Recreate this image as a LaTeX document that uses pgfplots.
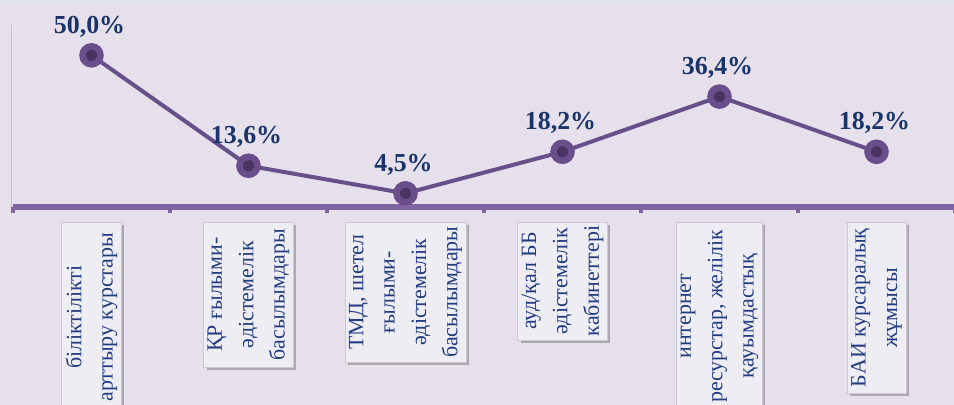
\documentclass[border=0pt]{standalone}
\usepackage{fontspec}
\setmainfont{Liberation Serif}
\usepackage{pgfplots}
\pgfplotsset{compat=1.18}
\usetikzlibrary{shadows}
\definecolor{bg}{HTML}{E5E0EC}
\definecolor{topband}{HTML}{DCE4EE}
\definecolor{axpurple}{HTML}{8064A2}
\definecolor{linepurple}{HTML}{67508A}
\definecolor{markouter}{HTML}{6A4E8C}
\definecolor{markinner}{HTML}{4A3263}
\definecolor{lblnavy}{HTML}{1A3468}
\definecolor{ticknavy}{HTML}{223C80}
\definecolor{boxfill}{HTML}{EFEDF4}
\definecolor{boxdraw}{HTML}{CCC8D4}
\begin{document}
\begin{tikzpicture}
\useasboundingbox (0,0) rectangle (954bp,405bp);
\clip (0,0) rectangle (954bp,405bp);
\fill[bg] (0,0) rectangle (954bp,405bp);
\fill[topband] (0,402bp) rectangle (954bp,405bp);
\draw[gray!45, line width=1bp] (11bp,198bp) -- (11bp,380bp);
\begin{axis}[
  at={(13bp,198bp)}, anchor=south west,
  scale only axis, width=942bp, height=182bp,
  xmin=-0.5, xmax=5.5, ymin=0, ymax=60,
  axis x line=bottom, axis y line=none,
  axis line style={-, axpurple, line width=5bp},
  xtick={0,1,2,3,4,5},
  minor xtick={-0.5,0.5,1.5,2.5,3.5,4.5,5.5},
  major tick length=0pt,
  minor tick length=6bp,
  tick align=outside,
  every minor tick/.style={axpurple, line width=4bp},
  ytick=\empty,
  xticklabel shift=15bp,
  xticklabel style={rotate=90, anchor=east, font=\fontsize{22}{31.5}\selectfont, text=ticknavy,
    fill=boxfill, draw=boxdraw, inner sep=4bp,
    drop shadow={shadow xshift=3bp, shadow yshift=-3bp, opacity=0.45, fill=black!60}},
  xticklabels={
    {\parbox{182bp}{\centering біліктілікті\\арттыру курстары}},
    {\parbox{137bp}{\centering ҚР ғылыми-\\әдістемелік\\басылымдары}},
    {\parbox{132bp}{\centering ТМД, шетел\\ғылыми-\\әдістемелік\\басылымдары}},
    {\parbox{110bp}{\centering ауд/қал ББ\\әдістемелік\\кабинеттері}},
    {\parbox{180bp}{\centering интернет\\ресурстар, желілік\\қауымдастық}},
    {\parbox{163bp}{\centering БАИ курсаралық\\жұмысы}}
  },
  clip=false,
  point meta=explicit symbolic,
  nodes near coords,
  every node near coord/.append style={anchor=base, yshift=22bp, xshift=-2bp, text=lblnavy,
    font=\fontsize{26}{30}\selectfont\bfseries},
]
\addplot[linepurple, line width=4bp, mark=*, mark size=9bp,
  mark options={draw=markouter, fill=markinner, line width=6.5bp}]
  coordinates {
    (0,50.0) [50,0\%]
    (1,13.6) [13,6\%]
    (2,4.5)  [4,5\%]
    (3,18.2) [18,2\%]
    (4,36.4) [36,4\%]
    (5,18.2) [18,2\%]
  };
\end{axis}
\end{tikzpicture}
\end{document}
